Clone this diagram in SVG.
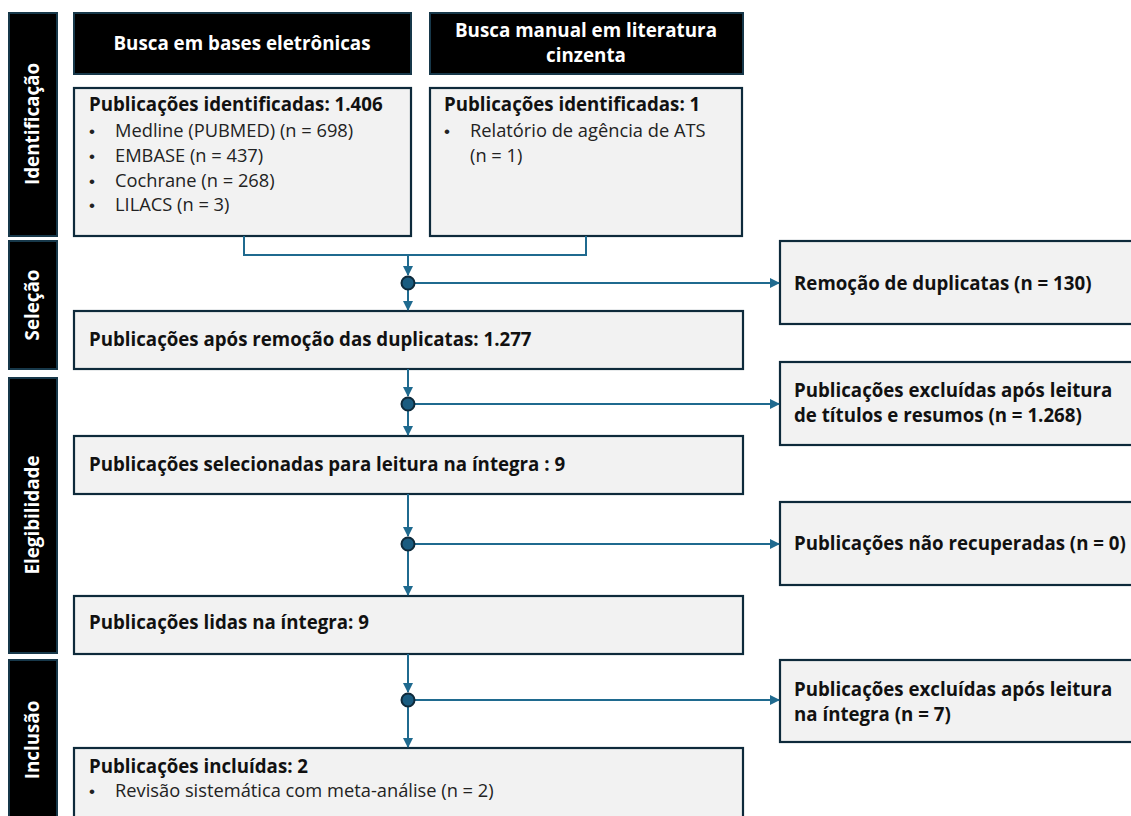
<svg xmlns="http://www.w3.org/2000/svg" width="1131" height="816" viewBox="0 0 1131 816">
<defs>
<marker id="ah" markerWidth="10" markerHeight="10" refX="9" refY="5" orient="auto" markerUnits="userSpaceOnUse">
<path d="M0,0 L10,5 L0,10 Z" fill="#1f6a8f"/>
</marker>
<style>
.bar{fill:#000;stroke:#17384a;stroke-width:2}
.hdr{fill:#000;stroke:#17384a;stroke-width:2}
.box{fill:#f2f2f2;stroke:#0e2a3b;stroke-width:2.2}
.side{font-family:"Open Sans","Liberation Sans",sans-serif;font-weight:bold;font-size:18.8px;fill:#fff;text-anchor:middle}
.ht{font-family:"Open Sans","Liberation Sans",sans-serif;font-weight:bold;font-size:18.8px;fill:#fff;text-anchor:middle}
.b{font-family:"Open Sans","Liberation Sans",sans-serif;font-weight:bold;font-size:18.7px;fill:#111}
.r{font-family:"Open Sans","Liberation Sans",sans-serif;font-size:18.3px;fill:#222}
.bu{font-family:"Liberation Sans",Arial,sans-serif;font-size:17px;fill:#222}
.ln{fill:none;stroke:#1f6a8f;stroke-width:2}
.dot{fill:#1a5c80;stroke:#0e2a3b;stroke-width:2}
</style>
</defs>
<rect width="1131" height="816" fill="#fff"/>

<g id="phase-identificacao"><rect class="bar" x="9" y="13" width="48" height="223"/><text class="side" transform="translate(39,124) rotate(-90)">Identificação</text></g>
<g id="phase-selecao"><rect class="bar" x="9" y="241" width="48" height="128"/><text class="side" transform="translate(39,305) rotate(-90)">Seleção</text></g>
<g id="phase-elegibilidade"><rect class="bar" x="9" y="378" width="48" height="275"/><text class="side" transform="translate(39,515) rotate(-90)">Elegibilidade</text></g>
<g id="phase-inclusao"><rect class="bar" x="9" y="660" width="48" height="170"/><text class="side" transform="translate(39,740) rotate(-90)">Inclusão</text></g>

<g id="hdr-bases"><rect class="hdr" x="74" y="13" width="337" height="61"/><text class="ht" x="242" y="50">Busca em bases eletrônicas</text></g>
<g id="hdr-manual"><rect class="hdr" x="430" y="13" width="313" height="61"/><text class="ht" x="586" y="37">Busca manual em literatura</text><text class="ht" x="586" y="62">cinzenta</text></g>

<g id="box-ident-bases"><rect class="box" x="74" y="88" width="337" height="148"/>
<text class="b" x="89" y="111">Publicações identificadas: 1.406</text>
<text class="bu" x="89" y="137">•</text><text class="r" x="115" y="137">Medline (PUBMED) (n = 698)</text>
<text class="bu" x="89" y="162">•</text><text class="r" x="115" y="162">EMBASE (n = 437)</text>
<text class="bu" x="89" y="187">•</text><text class="r" x="115" y="187">Cochrane (n = 268)</text>
<text class="bu" x="89" y="211">•</text><text class="r" x="115" y="211">LILACS (n = 3)</text>
</g>
<g id="box-ident-manual"><rect class="box" x="430" y="88" width="312" height="148"/>
<text class="b" x="444" y="111">Publicações identificadas: 1</text>
<text class="bu" x="444" y="137">•</text><text class="r" x="470" y="137">Relatório de agência de ATS</text>
<text class="r" x="470" y="162">(n = 1)</text>
</g>

<g id="box-apos"><rect class="box" x="74" y="311" width="669" height="58"/><text class="b" x="89" y="346">Publicações após remoção das duplicatas: 1.277</text></g>
<g id="box-selecionadas"><rect class="box" x="74" y="436" width="669" height="58"/><text class="b" x="89" y="471">Publicações selecionadas para leitura na íntegra : 9</text></g>
<g id="box-lidas"><rect class="box" x="74" y="596" width="669" height="58"/><text class="b" x="89" y="629">Publicações lidas na íntegra: 9</text></g>
<g id="box-incluidas"><rect class="box" x="74" y="748" width="669" height="80"/>
<text class="b" x="89" y="773">Publicações incluídas: 2</text>
<text class="bu" x="89" y="797">•</text><text class="r" x="115" y="797">Revisão sistemática com meta-análise (n = 2)</text>
</g>

<g id="box-duplicatas"><rect class="box" x="780" y="241" width="360" height="83"/><text class="b" x="794" y="290">Remoção de duplicatas (n = 130)</text></g>
<g id="box-excl-titulos"><rect class="box" x="780" y="362" width="360" height="83"/><text class="b" x="794" y="397">Publicações excluídas após leitura</text><text class="b" x="794" y="422">de títulos e resumos (n = 1.268)</text></g>
<g id="box-nao-recuperadas"><rect class="box" x="780" y="502" width="360" height="83"/><text class="b" x="794" y="550">Publicações não recuperadas (n = 0)</text></g>
<g id="box-excl-integra"><rect class="box" x="780" y="660" width="360" height="82"/><text class="b" x="794" y="696">Publicações excluídas após leitura</text><text class="b" x="794" y="721">na íntegra (n = 7)</text></g>

<g id="connectors">
<path class="ln" d="M244,236 V255 H586 V236"/>
<path class="ln" d="M408,255 V275" marker-end="url(#ah)"/>
<path class="ln" d="M408,290 V310" marker-end="url(#ah)"/>
<path class="ln" d="M415,283 H779" marker-end="url(#ah)"/>
<circle class="dot" cx="408" cy="283" r="6.5"/>

<path class="ln" d="M408,369 V396" marker-end="url(#ah)"/>
<path class="ln" d="M408,411 V435" marker-end="url(#ah)"/>
<path class="ln" d="M415,404 H779" marker-end="url(#ah)"/>
<circle class="dot" cx="408" cy="404" r="6.5"/>

<path class="ln" d="M408,494 V536" marker-end="url(#ah)"/>
<path class="ln" d="M408,551 V595" marker-end="url(#ah)"/>
<path class="ln" d="M415,544 H779" marker-end="url(#ah)"/>
<circle class="dot" cx="408" cy="544" r="6.5"/>

<path class="ln" d="M408,654 V692" marker-end="url(#ah)"/>
<path class="ln" d="M408,707 V747" marker-end="url(#ah)"/>
<path class="ln" d="M415,700 H779" marker-end="url(#ah)"/>
<circle class="dot" cx="408" cy="700" r="6.5"/>
</g>
</svg>
